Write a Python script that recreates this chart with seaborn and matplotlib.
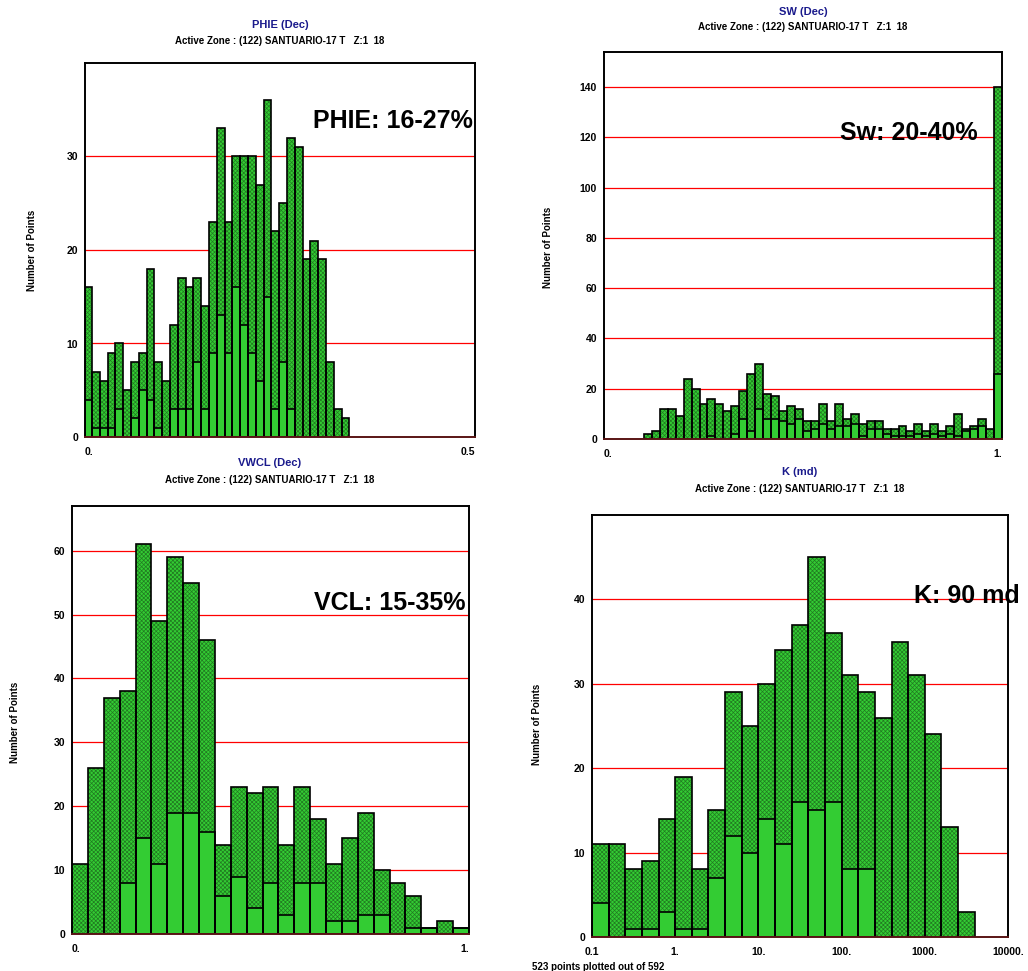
import numpy as np
import matplotlib
matplotlib.use("Agg")
import matplotlib.pyplot as plt
import seaborn as sns

# ---------------------------------------------------------------- data
# PHIE (Dec): 0.01 wide bins, first bin clipped at 0
phie_total = [16, 7, 6, 9, 10, 5, 8, 9, 18, 8, 6, 12, 17, 16, 17, 14, 23, 33,
              23, 30, 30, 30, 27, 36, 22, 25, 32, 31, 19, 21, 19, 8, 3, 2]
phie_inner = [4, 1, 1, 1, 3, 0, 2, 5, 4, 1, 0, 3, 3, 3, 8, 3, 9, 13,
              9, 16, 12, 9, 6, 15, 3, 8, 3, 0, 0, 0, 0, 0, 0, 0]

# SW (Dec): 0.02 wide bins from 0.1 to 1.0
sw_total = [2, 3, 12, 12, 9, 24, 20, 14, 16, 14, 11, 13, 19, 26, 30, 18, 17, 11,
            13, 12, 7, 7, 14, 7, 14, 8, 10, 6, 7, 7, 4, 4, 5, 3, 6, 3, 6, 3,
            5, 10, 4, 5, 8, 4, 140]
sw_inner = [0, 0, 0, 0, 0, 0, 0, 0, 1, 0, 0, 2, 8, 3, 12, 8, 8, 7,
            6, 8, 3, 4, 6, 4, 5, 5, 6, 1, 4, 4, 2, 1, 1, 1, 2, 1, 2, 1,
            2, 1, 3, 4, 5, 0, 26]

# VWCL (Dec): 0.04 wide bins from 0 to 1
vwcl_total = [11, 26, 37, 38, 61, 49, 59, 55, 46, 14, 23, 22, 23, 14, 23, 18,
              11, 15, 19, 10, 8, 6, 1, 2, 1]
vwcl_inner = [0, 0, 0, 8, 15, 11, 19, 19, 16, 6, 9, 4, 8, 3, 8, 8,
              2, 2, 3, 3, 0, 1, 1, 0, 1]

# K (md): 0.2 decade bins from 0.1
k_total = [11, 11, 8, 9, 14, 19, 8, 15, 29, 25, 30, 34, 37, 45, 36, 31, 29, 26,
           35, 31, 24, 13, 3]
k_inner = [4, 0, 1, 1, 3, 1, 1, 7, 12, 10, 14, 11, 16, 15, 16, 8, 8, 0,
           0, 0, 0, 0, 0]

k_tick_values = [0.1, 1, 10, 100, 1000, 10000]
k_tick_labels = ["0.1", "1.", "10.", "100.", "1000.", "10000."]

subtitle = "Active Zone : (122) SANTUARIO-17 T   Z:1  18"
footer = "523 points plotted out of 592"

# ---------------------------------------------------------------- style
sns.set_style("white")
plt.rcParams["font.family"] = ["Liberation Sans", "DejaVu Sans"]
plt.rcParams["font.weight"] = "bold"
plt.rcParams["hatch.linewidth"] = 0.5
for key in ("text.color", "axes.labelcolor", "xtick.color", "ytick.color"):
    plt.rcParams[key] = "black"

LIGHT = "#33CC33"
HATCH = "#217a21"
GRID = "#FF0000"
NAVY = "#1a1a8c"

W, H = 1028, 971
fig = plt.figure(figsize=(W / 100, H / 100), dpi=100)


def px(x, y):
    return x / W, 1 - y / H


def add_axes(left, top, right, bottom):
    return fig.add_axes([left / W, 1 - bottom / H, (right - left) / W, (bottom - top) / H])


def stacked_hist(ax, edges, totals, inner, log=False):
    edges = np.asarray(edges, dtype=float)
    if log:
        bins = np.log10(edges)
        centers = np.sqrt(edges[:-1] * edges[1:])
    else:
        bins = edges
        centers = (edges[:-1] + edges[1:]) / 2
    common = dict(x=list(centers), bins=list(bins), ax=ax, log_scale=log, stat="count")
    # textured full-height bars
    sns.histplot(weights=list(totals), color=LIGHT, alpha=1, edgecolor=HATCH,
                 linewidth=0, hatch="xxxxxxxx", zorder=2, **common)
    # plain lower part
    sns.histplot(weights=list(inner), color=LIGHT, alpha=1, edgecolor="black",
                 linewidth=1.2, zorder=3, **common)
    # outlines of the full bars
    sns.histplot(weights=list(totals), fill=False, color="black", alpha=1,
                 linewidth=1.2, zorder=4, **common)


def style_axes(ax, ylim, ystep):
    ax.set_ylim(0, ylim)
    ax.set_yticks(np.arange(0, ylim, ystep))
    ax.grid(axis="y", color=GRID, linewidth=0.9, zorder=0)
    ax.grid(axis="x", visible=False)
    ax.set_axisbelow(True)
    ax.set_xlabel("")
    ax.set_ylabel("")
    ax.tick_params(axis="y", length=3, width=0.9, color=GRID, pad=2,
                   labelsize=7.5, labelcolor="black")
    ax.tick_params(axis="x", which="both", direction="out", length=4, width=1,
                   color="black", pad=3, labelsize=7.5, labelcolor="black")
    for side, sp in ax.spines.items():
        sp.set_linewidth(1.4)
        sp.set_color("#5a1515" if side == "bottom" else "black")
        sp.set_zorder(6)


def linear_xticks(ax, xmax, step, end_label):
    ticks = np.arange(0, xmax + step / 2, step)
    labels = [""] * len(ticks)
    labels[0] = "0."
    labels[-1] = end_label
    ax.set_xticks(ticks, labels=labels)
    ax.set_xlim(0, xmax)
    tl = ax.get_xticklabels()
    tl[0].set_ha("left")
    tl[-1].set_ha("right")


# ---------------------------------------------------------------- PHIE
ax1 = add_axes(85, 63, 475, 437)
phie_edges = np.concatenate([[0.0], 0.009 + 0.01 * np.arange(len(phie_total))])
stacked_hist(ax1, phie_edges, phie_total, phie_inner)
style_axes(ax1, 40, 10)
linear_xticks(ax1, 0.5, 0.05, "0.5")

# ---------------------------------------------------------------- SW
ax2 = add_axes(604, 52, 1002, 439)
sw_edges = 0.1 + 0.02 * np.arange(len(sw_total) + 1)
stacked_hist(ax2, sw_edges, sw_total, sw_inner)
style_axes(ax2, 154, 20)
linear_xticks(ax2, 1.0, 0.1, "1.")

# ---------------------------------------------------------------- VWCL
ax3 = add_axes(72, 506, 469, 934)
vwcl_edges = 0.04 * np.arange(len(vwcl_total) + 1)
stacked_hist(ax3, vwcl_edges, vwcl_total, vwcl_inner)
style_axes(ax3, 67, 10)
linear_xticks(ax3, 1.0, 0.1, "1.")

# ---------------------------------------------------------------- K
ax4 = add_axes(592, 515, 1008, 937)
k_edges = 10 ** (-1 + 0.2 * np.arange(len(k_total) + 1))
stacked_hist(ax4, k_edges, k_total, k_inner, log=True)
style_axes(ax4, 50, 10)
ax4.set_xlim(0.1, 10000)
ax4.set_xticks(k_tick_values, labels=k_tick_labels)
ax4.xaxis.set_minor_locator(matplotlib.ticker.NullLocator())

# ---------------------------------------------------------------- text
titles = [("PHIE (Dec)", 280, 25, 41), ("SW (Dec)", 803, 12, 27),
          ("VWCL (Dec)", 270, 463, 480), ("K (md)", 800, 472, 489)]
for name, cx, ty, sy in titles:
    fig.text(*px(cx, ty), name, color=NAVY, fontsize=8, fontweight="bold",
             ha="center", va="center")
    fig.text(*px(cx, sy), subtitle, color="black", fontsize=7, fontweight="bold",
             ha="center", va="center")

for x, y in [(32, 250), (548, 247), (15, 722), (537, 724)]:
    fig.text(*px(x, y), "Number of Points", rotation=90, fontsize=7,
             fontweight="bold", ha="center", va="center")

notes = [("PHIE: 16-27%", 473, 128), ("Sw: 20-40%", 978, 140),
         ("VCL: 15-35%", 465, 610), ("K: 90 md", 1020, 603)]
for txt, rx, by in notes:
    fig.text(*px(rx, by), txt, fontsize=18, fontweight="bold", color="black",
             ha="right", va="baseline")

fig.text(*px(532, 967), footer, fontsize=7, fontweight="bold",
         ha="left", va="center")

fig.savefig("out.png", dpi=100)
